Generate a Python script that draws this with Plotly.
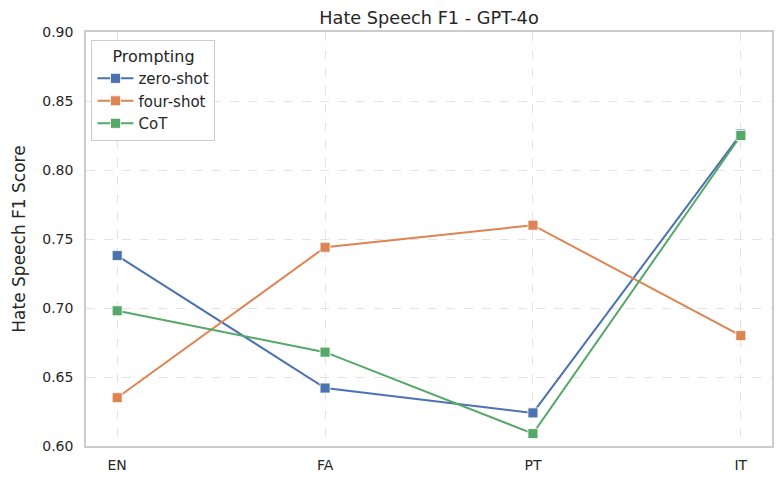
import plotly.graph_objects as go

languages = ["EN", "FA", "PT", "IT"]
zero_shot = [0.738, 0.642, 0.624, 0.826]
four_shot = [0.635, 0.744, 0.760, 0.680]
cot = [0.698, 0.668, 0.609, 0.825]

series = [
    ("zero-shot", zero_shot, "#4C72B0"),
    ("four-shot", four_shot, "#DD8452"),
    ("CoT", cot, "#55A868"),
]

fig = go.Figure()
for name, vals, color in series:
    fig.add_trace(go.Scatter(
        x=languages, y=vals, name=name, mode="lines+markers",
        line=dict(color=color, width=2),
        marker=dict(symbol="square", size=10, color=color, line=dict(color="white", width=0.8)),
    ))

font = "DejaVu Sans"
# page body has an 8px margin; compensate so the plot lands where the reference has it
fig.update_layout(
    width=776, height=476,
    margin=dict(l=73, r=10, t=24, b=38),
    plot_bgcolor="white", paper_bgcolor="white",
    font=dict(family=font, color="#262626", size=13),
    title=dict(text="Hate Speech F1 - GPT-4o", x=0.5, xref="paper", xanchor="center",
               y=1 - 10 / 476, yref="container", yanchor="middle", font=dict(size=17.7, family=font)),
    showlegend=True,
    legend=dict(
        x=0.008, y=0.98, xanchor="left", yanchor="top",
        bgcolor="rgba(255,255,255,0.8)", bordercolor="#cccccc", borderwidth=1,
        title=dict(text="Prompting", side="top center", font=dict(size=16, family=font)),
        font=dict(size=15, family=font),
        itemwidth=36, tracegroupgap=0,
    ),
)
fig.update_xaxes(
    type="category", range=[-0.15, 3.15],
    showgrid=True, gridcolor="#e3e3e3", griddash="dash", gridwidth=1,
    showline=True, linecolor="#cccccc", linewidth=1.5, mirror=True,
    ticks="", tickfont=dict(size=14, family=font), zeroline=False,
    ticklabelstandoff=5,
)
fig.update_yaxes(
    range=[0.60, 0.90], dtick=0.05, tickformat=".2f",
    showgrid=True, gridcolor="#e3e3e3", griddash="dash", gridwidth=1,
    showline=True, linecolor="#cccccc", linewidth=1.5, mirror=True,
    ticks="", tickfont=dict(size=14, family=font), zeroline=False,
    ticklabelstandoff=8,
    title=dict(text="Hate Speech F1 Score", font=dict(size=17, family=font), standoff=12),
)
fig.write_html("out.html")
